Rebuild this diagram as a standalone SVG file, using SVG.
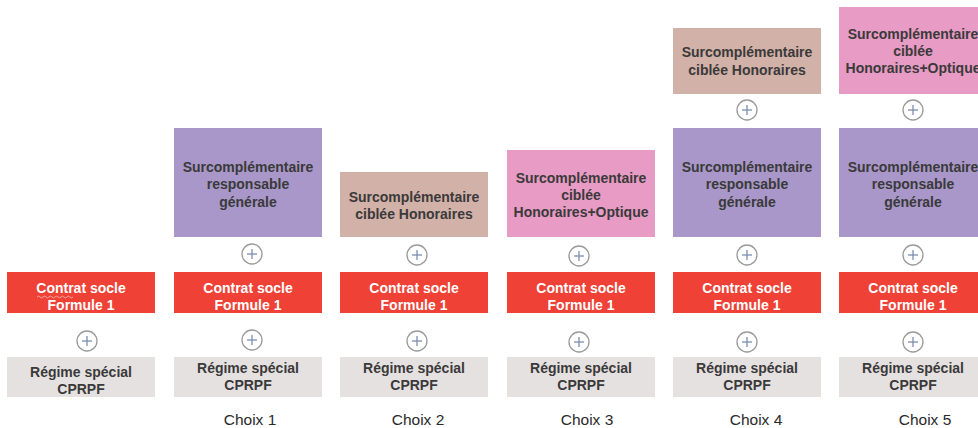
<svg xmlns="http://www.w3.org/2000/svg" width="978" height="428" viewBox="0 0 978 428">
<style>
.t{font-family:"Liberation Sans",Arial,sans-serif;font-weight:bold;font-size:14px;text-anchor:middle;fill:#3a3a3a}
.w{fill:#ffffff}
.lbl{font-family:"Liberation Sans",Arial,sans-serif;font-size:15.5px;text-anchor:middle;fill:#2a2a2a}
.red{fill:#ef4136}
.grey{fill:#e6e1e1}
.purple{fill:#a897c8}
.brown{fill:#d2b1a8}
.pink{fill:#e89bc4}
.pc{fill:#ffffff;stroke:#9a9a9a;stroke-width:1.3}
.pl{stroke:#7a8fb0;stroke-width:1.3}
</style>
<defs>
<g id="plus">
<circle class="pc" r="10"/>
<line class="pl" x1="-5" y1="0" x2="5" y2="0"/>
<line class="pl" x1="0" y1="-5" x2="0" y2="5"/>
</g>
</defs>
<rect width="978" height="428" fill="#ffffff"/>

<g id="connectors">
<use href="#plus" x="87" y="341"/>
<use href="#plus" x="252" y="254"/>
<use href="#plus" x="252" y="340"/>
<use href="#plus" x="417" y="255"/>
<use href="#plus" x="417" y="341"/>
<use href="#plus" x="579" y="256"/>
<use href="#plus" x="579" y="342"/>
<use href="#plus" x="747" y="110"/>
<use href="#plus" x="747" y="255"/>
<use href="#plus" x="747" y="342"/>
<use href="#plus" x="913" y="110"/>
<use href="#plus" x="913" y="255"/>
<use href="#plus" x="913" y="342"/>
</g>

<!-- Column 0 -->
<g id="c0-socle"><rect class="red" x="7" y="272" width="148" height="41"/>
<text class="t w" x="81" y="293">Contrat socle</text><text class="t w" x="81" y="310">Formule 1</text>
<path d="M37,297 q1.5,-1.8 3,0 t3,0 t3,0 t3,0 t3,0 t3,0 t3,0 t3,0 t3,0 t3,0 t3,0 t3,0" fill="none" stroke="#f6b0aa" stroke-width="0.9"/></g>
<g id="c0-regime"><rect class="grey" x="7" y="357" width="148" height="40"/>
<text class="t" x="81" y="377">Régime spécial</text><text class="t" x="81" y="394">CPRPF</text></g>

<!-- Column 1 -->
<g id="c1-resp"><rect class="purple" x="174" y="128" width="148" height="109"/>
<text class="t" x="248" y="172">Surcomplémentaire</text><text class="t" x="248" y="189">responsable</text><text class="t" x="248" y="207">générale</text></g>
<g id="c1-socle"><rect class="red" x="174" y="272" width="148" height="41"/>
<text class="t w" x="248" y="293">Contrat socle</text><text class="t w" x="248" y="310">Formule 1</text></g>
<g id="c1-regime"><rect class="grey" x="174" y="357" width="148" height="40"/>
<text class="t" x="248" y="373">Régime spécial</text><text class="t" x="248" y="390">CPRPF</text></g>
<text id="choix1" class="lbl" x="250" y="425">Choix 1</text>

<!-- Column 2 -->
<g id="c2-hon"><rect class="brown" x="340" y="172" width="148" height="65"/>
<text class="t" x="414" y="202">Surcomplémentaire</text><text class="t" x="414" y="219">ciblée Honoraires</text></g>
<g id="c2-socle"><rect class="red" x="340" y="272" width="148" height="41"/>
<text class="t w" x="414" y="293">Contrat socle</text><text class="t w" x="414" y="310">Formule 1</text></g>
<g id="c2-regime"><rect class="grey" x="340" y="357" width="148" height="40"/>
<text class="t" x="414" y="373">Régime spécial</text><text class="t" x="414" y="390">CPRPF</text></g>
<text id="choix2" class="lbl" x="418" y="425">Choix 2</text>

<!-- Column 3 -->
<g id="c3-honopt"><rect class="pink" x="507" y="150" width="148" height="87"/>
<text class="t" x="581" y="183">Surcomplémentaire</text><text class="t" x="581" y="200">ciblée</text><text class="t" x="581" y="217">Honoraires+Optique</text></g>
<g id="c3-socle"><rect class="red" x="507" y="272" width="148" height="41"/>
<text class="t w" x="581" y="293">Contrat socle</text><text class="t w" x="581" y="310">Formule 1</text></g>
<g id="c3-regime"><rect class="grey" x="507" y="357" width="148" height="40"/>
<text class="t" x="581" y="373">Régime spécial</text><text class="t" x="581" y="390">CPRPF</text></g>
<text id="choix3" class="lbl" x="587" y="425">Choix 3</text>

<!-- Column 4 -->
<g id="c4-hon"><rect class="brown" x="673" y="28" width="148" height="66"/>
<text class="t" x="747" y="57">Surcomplémentaire</text><text class="t" x="747" y="75">ciblée Honoraires</text></g>
<g id="c4-resp"><rect class="purple" x="673" y="128" width="148" height="109"/>
<text class="t" x="747" y="172">Surcomplémentaire</text><text class="t" x="747" y="189">responsable</text><text class="t" x="747" y="207">générale</text></g>
<g id="c4-socle"><rect class="red" x="673" y="272" width="148" height="41"/>
<text class="t w" x="747" y="293">Contrat socle</text><text class="t w" x="747" y="310">Formule 1</text></g>
<g id="c4-regime"><rect class="grey" x="673" y="357" width="148" height="40"/>
<text class="t" x="747" y="373">Régime spécial</text><text class="t" x="747" y="390">CPRPF</text></g>
<text id="choix4" class="lbl" x="756" y="425">Choix 4</text>

<!-- Column 5 -->
<g id="c5-honopt"><rect class="pink" x="839" y="7" width="148" height="87"/>
<text class="t" x="913" y="39">Surcomplémentaire</text><text class="t" x="913" y="56">ciblée</text><text class="t" x="913" y="73">Honoraires+Optique</text></g>
<g id="c5-resp"><rect class="purple" x="839" y="128" width="148" height="109"/>
<text class="t" x="913" y="172">Surcomplémentaire</text><text class="t" x="913" y="189">responsable</text><text class="t" x="913" y="207">générale</text></g>
<g id="c5-socle"><rect class="red" x="839" y="272" width="148" height="41"/>
<text class="t w" x="913" y="293">Contrat socle</text><text class="t w" x="913" y="310">Formule 1</text></g>
<g id="c5-regime"><rect class="grey" x="839" y="357" width="148" height="40"/>
<text class="t" x="913" y="373">Régime spécial</text><text class="t" x="913" y="390">CPRPF</text></g>
<text id="choix5" class="lbl" x="925" y="425">Choix 5</text>
</svg>
